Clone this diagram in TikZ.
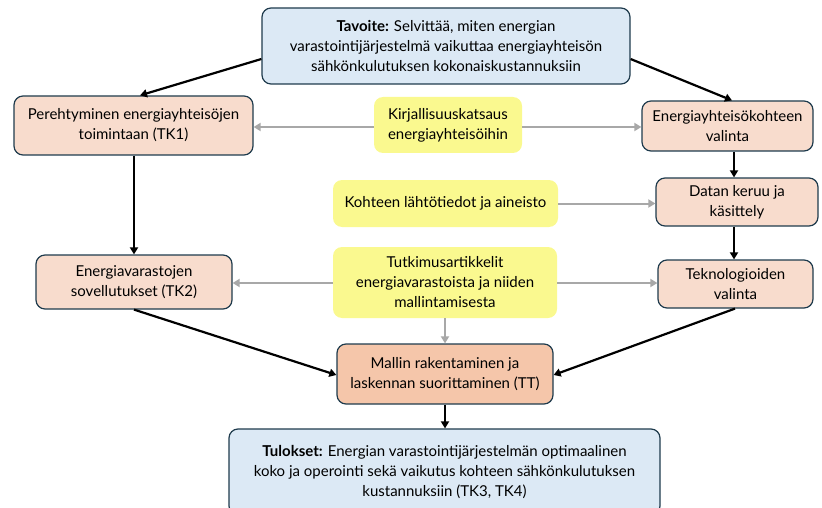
\documentclass[tikz,border=0pt]{standalone}
\usepackage{fontspec}
\setmainfont{Lato}
\usetikzlibrary{arrows.meta}
\definecolor{goalfill}{HTML}{DCE9F5}
\definecolor{taskfill}{HTML}{F8DCCD}
\definecolor{modelfill}{HTML}{F5C6AA}
\definecolor{srcfill}{HTML}{FAF98F}
\definecolor{edgecol}{HTML}{1F3B4D}
\definecolor{greyarr}{HTML}{A8A8A8}
\tikzset{
  base/.style={rounded corners=9pt, align=center, font=\fontsize{15}{20}\selectfont, inner sep=0pt},
  goalbox/.style={base, draw=edgecol, line width=1.2pt, fill=goalfill},
  taskbox/.style={base, draw=edgecol, line width=1.2pt, fill=taskfill},
  modelbox/.style={base, draw=edgecol, line width=1.2pt, fill=modelfill},
  srcbox/.style={base, fill=srcfill},
  flow/.style={line width=2.2pt, -{Triangle[length=7pt,width=8pt]}},
  feed/.style={line width=2pt, greyarr, -{Triangle[length=7pt,width=8pt]}}
}
\begin{document}
\begin{tikzpicture}[x=1pt,y=-1pt]
\useasboundingbox (0,0) rectangle (822,508);
% boxes (centre, size)
\node[goalbox, minimum width=368pt, minimum height=76pt] (goal) at (446,46)
  {\textbf{Tavoite:} Selvittää, miten energian\\varastointijärjestelmä vaikuttaa energiayhteisön\\sähkönkulutuksen kokonaiskustannuksiin};
\node[taskbox, minimum width=239pt, minimum height=59pt] (tk1) at (133.5,125.5)
  {Perehtyminen energiayhteisöjen\\toimintaan (TK1)};
\node[srcbox, minimum width=148pt, minimum height=56pt] (lit) at (448,125)
  {Kirjallisuuskatsaus\\energiayhteisöihin};
\node[taskbox, minimum width=171pt, minimum height=50pt] (site) at (727.5,126)
  {Energiayhteisökohteen\\valinta};
\node[srcbox, minimum width=225pt, minimum height=47pt] (input) at (445.5,203.5)
  {Kohteen lähtötiedot ja aineisto};
\node[taskbox, minimum width=162pt, minimum height=48pt] (data) at (737,202)
  {Datan keruu ja\\käsittely};
\node[taskbox, minimum width=196pt, minimum height=54pt] (tk2) at (134,282)
  {Energiavarastojen\\sovellutukset (TK2)};
\node[srcbox, minimum width=224pt, minimum height=71pt] (art) at (445,282.5)
  {Tutkimusartikkelit\\energiavarastoista ja niiden\\mallintamisesta};
\node[taskbox, minimum width=155pt, minimum height=48pt] (tech) at (735.5,284)
  {Teknologioiden\\valinta};
\node[modelbox, minimum width=216pt, minimum height=60pt] (model) at (445,374)
  {Mallin rakentaminen ja\\laskennan suorittaminen (TT)};
\node[goalbox, minimum width=431pt, minimum height=86pt] (res) at (444.5,472)
  {\textbf{Tulokset:} Energian varastointijärjestelmän optimaalinen\\koko ja operointi sekä vaikutus kohteen sähkönkulutuksen\\kustannuksiin (TK3, TK4)};
% main flow
\draw[flow] (goal.west |- 0,59) -- (tk1.north -| 140,0);
\draw[flow] (goal.east |- 0,59) -- (site.north -| 732,0);
\draw[flow] (tk1.south -| 134,0) -- (tk2.north -| 134,0);
\draw[flow] (site.south -| 734,0) -- (data.north -| 734,0);
\draw[flow] (data.south -| 734,0) -- (tech.north -| 734,0);
\draw[flow] (tk2.south -| 134,0) -- (model.west |- 0,375);
\draw[flow] (tech.south -| 735,0) -- (model.east |- 0,375);
\draw[flow] (model.south -| 445,0) -- (res.north -| 445,0);
% source feeds
\draw[feed] (lit.west |- 0,127) -- (tk1.east |- 0,127);
\draw[feed] (lit.east |- 0,127) -- (site.west |- 0,127);
\draw[feed] (input) -- (data.west |- input);
\draw[feed] (art.west |- 0,283) -- (tk2.east |- 0,283);
\draw[feed] (art.east |- 0,283) -- (tech.west |- 0,283);
\draw[feed] (art.south -| 445,0) -- (model.north -| 445,0);
\end{tikzpicture}
\end{document}
